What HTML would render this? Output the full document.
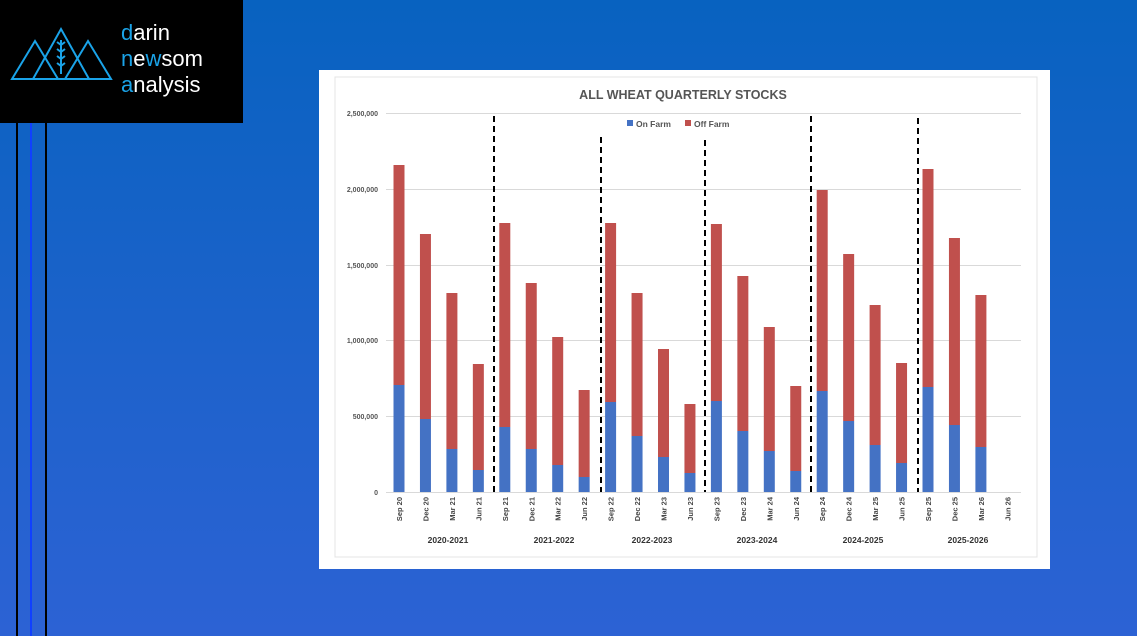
<!DOCTYPE html>
<html><head><style>
html,body{margin:0;padding:0;}
body{width:1137px;height:636px;overflow:hidden;background:linear-gradient(180deg,#0862c0 0%,#1f62cc 60%,#2c62d4 100%);position:relative;font-family:"Liberation Sans",sans-serif;}
.logo{position:absolute;left:0;top:0;width:243px;height:123px;background:#000;}
.vl{position:absolute;top:123px;bottom:0;width:2px;}
</style></head><body>
<div class="logo">
<svg width="243" height="123">
<g fill="none" stroke="#1aa3e8" stroke-width="2">
<polygon points="12,79 35,41 58,79"/>
<polygon points="33,79 61,29 89,79"/>
<polygon points="65,79 88,41 111,79"/>
<line x1="61" y1="40" x2="61" y2="74"/>
<path d="M61 45 l-4 -3 M61 45 l4 -3 M61 52 l-4 -3 M61 52 l4 -3 M61 59 l-4 -3 M61 59 l4 -3 M61 66 l-4 -3 M61 66 l4 -3"/>
</g>
<g font-family="Liberation Sans,sans-serif" font-size="22" fill="#fff">
<text x="121" y="40"><tspan fill="#1aa3e8">d</tspan>arin</text>
<text x="121" y="66"><tspan fill="#1aa3e8">n</tspan>e<tspan fill="#1aa3e8">w</tspan>som</text>
<text x="121" y="92"><tspan fill="#1aa3e8">a</tspan>nalysis</text>
</g>
</svg>
</div>
<div class="vl" style="left:16px;background:#000"></div>
<div class="vl" style="left:30px;background:#1040ff"></div>
<div class="vl" style="left:45px;background:#000"></div>
<svg style="position:absolute;left:0;top:0" width="1137" height="636" font-family="Liberation Sans,sans-serif">
<rect x="319" y="70" width="731" height="499" fill="#fff"/>
<rect x="335" y="77" width="702" height="480" fill="none" stroke="#e4e4e4"/>
<text x="683" y="99" text-anchor="middle" font-size="12.5" font-weight="bold" fill="#555">ALL WHEAT QUARTERLY STOCKS</text>
<g stroke="#d9d9d9" stroke-width="1">
<line x1="386" x2="1021" y1="113.5" y2="113.5"/><line x1="386" x2="1021" y1="189.5" y2="189.5"/>
<line x1="386" x2="1021" y1="265.5" y2="265.5"/><line x1="386" x2="1021" y1="340.5" y2="340.5"/>
<line x1="386" x2="1021" y1="416.5" y2="416.5"/><line x1="386" x2="1021" y1="492.5" y2="492.5"/>
</g>
<g font-size="7" font-weight="bold" fill="#555" text-anchor="end">
<text x="378" y="116">2,500,000</text><text x="378" y="192">2,000,000</text>
<text x="378" y="268">1,500,000</text><text x="378" y="343">1,000,000</text>
<text x="378" y="419">500,000</text><text x="378" y="495">0</text>
</g>
<rect x="627" y="120" width="6" height="6" fill="#4472c4"/><text x="636" y="127" font-size="8.5" font-weight="bold" fill="#555">On Farm</text>
<rect x="685" y="120" width="6" height="6" fill="#c0504d"/><text x="694" y="127" font-size="8.5" font-weight="bold" fill="#555">Off Farm</text>
<g id="bars"></g>
<g stroke="#000" stroke-width="2" stroke-dasharray="6,4">
<line x1="494" y1="116" x2="494" y2="492"/><line x1="601" y1="137" x2="601" y2="492"/>
<line x1="705" y1="140" x2="705" y2="492"/><line x1="811" y1="116" x2="811" y2="492"/>
<line x1="918" y1="118" x2="918" y2="492"/>
</g>
<g font-size="8.5" font-weight="bold" fill="#333" text-anchor="middle">
<text x="448" y="543">2020-2021</text><text x="554" y="543">2021-2022</text>
<text x="652" y="543">2022-2023</text><text x="757" y="543">2023-2024</text>
<text x="863" y="543">2024-2025</text><text x="968" y="543">2025-2026</text>
</g>
<g id="xl" font-size="7.5" font-weight="bold" fill="#444" text-anchor="end"></g>
</svg>
<script>
var d=[[165,385],[234,419],[293,449],[364,470],[223,427],[283,449],[337,465],[390,477],[223,402],[293,436],[349,457],[404,473],[224,401],[276,431],[327,451],[386,471],[190,391],[254,421],[305,445],[363,463],[169,387],[238,425],[295,447],null];
var lab=["Sep 20","Dec 20","Mar 21","Jun 21","Sep 21","Dec 21","Mar 22","Jun 22","Sep 22","Dec 22","Mar 23","Jun 23","Sep 23","Dec 23","Mar 24","Jun 24","Sep 24","Dec 24","Mar 25","Jun 25","Sep 25","Dec 25","Mar 26","Jun 26"];
var ns="http://www.w3.org/2000/svg",b=document.getElementById("bars"),xl=document.getElementById("xl");
for(var i=0;i<24;i++){var cx=399+i*26.45;
if(d[i]){var r=document.createElementNS(ns,"rect");r.setAttribute("x",cx-5.5);r.setAttribute("width",11);r.setAttribute("y",d[i][0]);r.setAttribute("height",d[i][1]-d[i][0]);r.setAttribute("fill","#c0504d");b.appendChild(r);
r=document.createElementNS(ns,"rect");r.setAttribute("x",cx-5.5);r.setAttribute("width",11);r.setAttribute("y",d[i][1]);r.setAttribute("height",492-d[i][1]);r.setAttribute("fill","#4472c4");b.appendChild(r);}
var t=document.createElementNS(ns,"text");t.setAttribute("transform","translate("+(cx+3)+",497) rotate(-90)");t.textContent=lab[i];xl.appendChild(t);}
</script>
</body></html>
